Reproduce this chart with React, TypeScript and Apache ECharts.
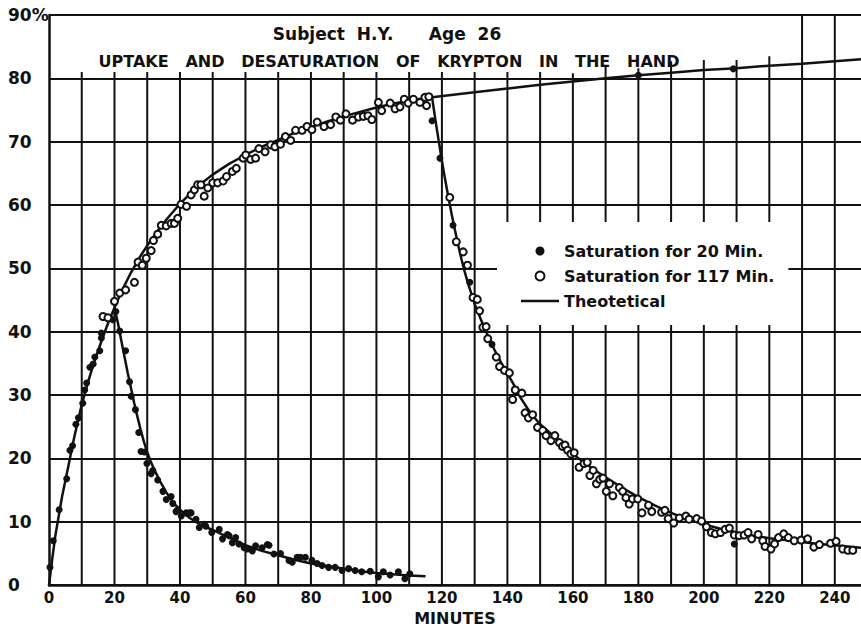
import React, { useEffect, useRef } from "react";
import * as echarts from "echarts";

// ---------- data ----------
const titleLine1 = "Subject\u00A0\u00A0H.Y.\u00A0\u00A0\u00A0\u00A0\u00A0\u00A0Age\u00A0\u00A026";
const titleLine2 =
  "UPTAKE\u00A0\u00A0\u00A0AND\u00A0\u00A0\u00A0DESATURATION\u00A0\u00A0\u00A0OF\u00A0\u00A0\u00A0KRYPTON\u00A0\u00A0\u00A0IN\u00A0\u00A0\u00A0THE\u00A0\u00A0\u00A0HAND";
const xAxisName = "MINUTES";
const legendNames = ["Saturation for 20 Min.", "Saturation for 117 Min.", "Theotetical"];

// vertical grid lines (minutes) and how high each one is drawn (%)
const gridX = [10, 20, 30, 40, 50, 60, 70, 80, 90, 100, 110, 120, 130, 140, 150, 160, 170, 180, 190, 200, 210, 220, 230, 240];
const gridTop = [81, 81, 81, 81, 81, 81, 81, 81, 81, 81, 81, 81, 81, 81, 81, 80.8, 81.9, 81.6, 82.7, 82.9, 82.9, 83.5, 90, 90];

// theoretical curves [minutes, %]
const uptakeCurve = [
  [0, 0], [1, 4.2], [2, 8], [3, 11], [4, 14], [5, 16.5], [6, 19], [7, 21.6], [8, 24], [10, 28.5],
  [12, 32.2], [14, 35.5], [16, 38.5], [18, 41.3], [20, 43.8], [22, 46.2], [25, 49.3], [28, 52],
  [30, 53.6], [33, 55.8], [36, 57.8], [40, 60.2], [45, 62.8], [50, 64.8], [55, 66.5], [60, 67.9],
  [65, 69.2], [70, 70.3], [75, 71.4], [80, 72.3], [85, 73.2], [90, 74], [95, 74.7], [100, 75.4],
  [105, 76], [110, 76.5], [117, 77.0], [130, 77.8], [140, 78.4], [150, 79.0], [160, 79.5],
  [170, 80.0], [180, 80.5], [190, 80.9], [200, 81.3], [210, 81.6], [220, 82.0], [230, 82.3],
  [240, 82.7], [248, 83.0],
];
const desat20Curve = [
  [20, 43.8], [21, 41.5], [22, 38.8], [23, 36.2], [24, 33.6], [25, 31.2], [26, 28.8], [27, 26.6],
  [28, 24.5], [29, 22.6], [30, 21.0], [31, 19.6], [32, 18.4], [34, 16.3], [36, 14.5], [38, 13.0],
  [40, 11.9], [43, 10.6], [46, 9.6], [50, 8.7], [55, 7.5], [60, 6.3], [65, 5.4], [70, 4.7],
  [75, 4.0], [80, 3.4], [85, 3.0], [90, 2.6], [95, 2.2], [100, 1.9], [105, 1.7], [110, 1.5], [115, 1.4],
];
const desat117Curve = [
  [117, 77.0], [118, 73.5], [119, 70.2], [120, 67.0], [121, 64.0], [122, 61.2], [123, 58.5],
  [124, 56.0], [125, 53.6], [126, 51.4], [127, 49.4], [128, 47.6], [130, 44.4], [132, 41.8],
  [134, 39.4], [136, 37.2], [138, 35.2], [140, 33.4], [142, 31.6], [144, 29.6], [147, 27.2],
  [150, 25.4], [154, 23.6], [158, 21.4], [162, 19.9], [166, 18.4], [170, 17.0], [175, 15.4],
  [180, 13.9], [185, 12.6], [190, 11.4], [195, 10.4], [200, 9.6], [205, 8.9], [210, 8.3],
  [215, 7.8], [220, 7.4], [225, 7.1], [230, 6.8], [235, 6.5], [240, 6.3], [248, 5.9],
];

// measured points, 20-minute saturation (filled dots)
const sat20Points = [
  [0.3, 2.8], [1.3, 7.0], [3.1, 11.9], [5.4, 16.8], [6.4, 21.3], [7.2, 22.0], [8.2, 25.4], [9.0, 26.4],
  [10.3, 28.7], [10.9, 30.8], [11.5, 31.9], [12.5, 34.4], [13.5, 34.9], [14.0, 36.0], [15.5, 37.0],
  [16.0, 39.0], [16.0, 39.8], [17.0, 42.4], [18.5, 42.2], [19.5, 41.9], [20.4, 43.2],
  [21.6, 40.1], [23.4, 37.0], [24.6, 32.1], [25.1, 29.8], [26.4, 27.7], [27.4, 24.1], [28.1, 21.1],
  [29.2, 21.0], [29.9, 19.2], [31.2, 17.6], [31.7, 18.1], [33.2, 16.6], [34.8, 14.8], [35.8, 13.5],
  [37.3, 14.0], [37.8, 12.9], [38.8, 11.6], [39.3, 11.9], [40.4, 10.9], [41.9, 11.4], [42.9, 11.4],
  [43.4, 11.4], [44.9, 10.4], [45.9, 9.1], [47.4, 9.6], [47.9, 9.3], [49.7, 8.3], [52.0, 8.8],
  [53.0, 7.3], [54.5, 8.0], [55.0, 7.8], [56.0, 6.7], [57.0, 7.5], [58.0, 6.5], [59.6, 5.9],
  [60.6, 5.7], [62.1, 5.4], [63.1, 6.2], [65.1, 5.9], [66.7, 6.4], [67.2, 6.3], [68.7, 4.9],
  [70.7, 5.0], [73.3, 3.9], [74.3, 3.6], [75.8, 4.4], [76.8, 4.4], [78.3, 4.4], [80.3, 3.9],
  [81.9, 3.4], [83.4, 3.1], [85.4, 2.8], [87.4, 2.8], [89.5, 2.3], [91.5, 2.6], [93.5, 2.3],
  [95.5, 2.1], [98.1, 2.2], [100.6, 1.3], [102.1, 2.1], [104.2, 1.6], [106.7, 2.1], [108.7, 1.0],
  [110.2, 1.8],
  [117.0, 73.3], [119.4, 67.4], [123.4, 56.8], [128.5, 47.8], [135.3, 38.0],
  [180.0, 80.5], [209.0, 81.5], [209.3, 6.5],
];

// measured points, 117-minute saturation (open circles)
const sat117Points = [
  [16.5, 42.4], [18.0, 42.2], [20.0, 44.8], [21.6, 46.1], [23.4, 46.6], [26.1, 47.8], [27.2, 51.0],
  [28.5, 50.5], [29.7, 51.6], [31.2, 52.8], [31.9, 54.4], [33.2, 55.4], [34.3, 56.8], [35.8, 56.7],
  [37.3, 57.1], [38.3, 57.1], [39.3, 57.9], [40.3, 60.1], [42.0, 59.8], [43.4, 61.6], [44.4, 62.4],
  [45.4, 63.2], [46.4, 63.2], [47.4, 61.4], [48.5, 62.7], [50.0, 63.5], [51.5, 63.5], [53.2, 63.8],
  [54.2, 64.5], [56.0, 65.3], [57.2, 65.8], [59.3, 67.4], [60.1, 67.9], [61.6, 67.2], [63.1, 67.4],
  [64.1, 68.9], [66.0, 68.4], [67.7, 69.5], [69.0, 69.2], [70.7, 69.6], [72.2, 70.8], [73.8, 70.2],
  [75.3, 71.8], [77.3, 71.8], [78.8, 72.4], [80.3, 71.9], [81.9, 73.1], [84.0, 72.4], [86.0, 72.7],
  [87.6, 73.9], [89.0, 73.4], [90.7, 74.4], [92.7, 73.4], [94.5, 73.9], [96.0, 74.0], [97.4, 74.1],
  [98.6, 73.5], [100.6, 76.2], [101.6, 74.9], [104.2, 76.1], [105.7, 75.2], [107.2, 75.5],
  [108.5, 76.7], [109.7, 76.1], [111.3, 76.7], [113.3, 76.2], [114.8, 77.0], [116.0, 77.1], [115.3, 75.7],
  [122.4, 61.2], [124.4, 54.2], [126.5, 52.6], [127.8, 50.5], [129.5, 45.4], [130.8, 45.1],
  [131.5, 43.3], [132.5, 40.7], [133.5, 40.8], [134.0, 38.9], [136.6, 36.0], [137.6, 34.5],
  [139.1, 33.9], [140.6, 33.5], [141.6, 29.3], [142.4, 30.8], [144.4, 30.3], [145.4, 27.2],
  [146.4, 26.4], [147.7, 26.9], [149.2, 24.9], [150.8, 24.4], [151.8, 23.6], [153.3, 22.8],
  [154.5, 23.6], [155.9, 22.5], [156.8, 21.9], [157.6, 22.1], [158.4, 21.3], [159.4, 20.7],
  [160.4, 20.9], [161.9, 18.6], [163.4, 19.2], [164.4, 19.4], [165.2, 17.3], [166.2, 18.1],
  [167.2, 16.0], [168.2, 16.7], [169.2, 16.9], [170.2, 14.8], [171.2, 16.0], [172.2, 14.1],
  [174.2, 15.4], [175.2, 14.8], [176.2, 13.8], [177.2, 12.8], [178.2, 13.6], [179.8, 13.6],
  [181.1, 11.4], [183.1, 12.6], [184.1, 11.6], [187.1, 11.5], [188.1, 11.8], [189.1, 10.5],
  [190.8, 9.8], [192.5, 10.6], [194.5, 10.9], [195.5, 10.4], [197.8, 10.5], [199.3, 10.1],
  [200.8, 9.2], [202.3, 8.3], [203.5, 8.1], [205.1, 8.3], [206.5, 8.8], [207.8, 9.0], [209.3, 7.9],
  [210.8, 7.8], [212.3, 7.9], [213.5, 8.3], [214.6, 7.3], [216.6, 8.0], [218.0, 7.0], [218.7, 6.1],
  [220.5, 5.7], [221.6, 6.5], [222.8, 7.5], [224.4, 8.1], [225.8, 7.5], [227.6, 7.0], [229.7, 7.1],
  [231.7, 7.3], [233.6, 6.0], [235.3, 6.4], [238.7, 6.6], [240.4, 6.9], [242.4, 5.7], [244.0, 5.5],
  [245.5, 5.5],
];

const xMin = 0;
const xMax = 248;
const xInterval = 20;
const yMin = 0;
const yMax = 90;
const yInterval = 10;

const INK = "#111";
const FONT = "DejaVu Sans";
// plain line legend icon (bounds set by the two moveTo's so it is not stretched)
const LINE_ICON = "path://M0,0M38,9M0,3.3H38V5.7H0Z";

export default function App() {
  const ref = useRef<HTMLDivElement>(null);

  useEffect(() => {
    if (!ref.current) return;
    const chart = echarts.init(ref.current, undefined, { renderer: "svg" });
    const gridData = gridX.map((x, i) => [x, gridTop[i]]);

    const option: any = {
      animation: false,
      backgroundColor: "#fff",
      grid: { left: 49, right: 0, top: 15, bottom: 36, containLabel: false },
      graphic: [
        {
          type: "text",
          x: 387,
          y: 34,
          z: 10,
          style: {
            text: titleLine1,
            fill: INK,
            font: `bold 17px '${FONT}'`,
            textAlign: "center",
            textVerticalAlign: "middle",
          },
        },
        {
          type: "text",
          x: 389,
          y: 61,
          z: 10,
          style: {
            text: titleLine2,
            fill: INK,
            font: `bold 16px '${FONT}'`,
            textAlign: "center",
            textVerticalAlign: "middle",
          },
        },
      ],
      legend: {
        data: [
          { name: legendNames[0] },
          { name: legendNames[1] },
          { name: legendNames[2], icon: LINE_ICON, itemStyle: { color: INK } },
        ],
        orient: "vertical",
        left: 497,
        top: 222,
        z: 10,
        backgroundColor: "#fff",
        padding: [21, 14, 16, 24],
        itemWidth: 38,
        itemHeight: 9,
        itemGap: 9,
        selectedMode: false,
        textStyle: { fontFamily: FONT, fontWeight: "bold", fontSize: 16, color: INK },
      },
      xAxis: {
        type: "value",
        min: xMin,
        max: xMax,
        interval: xInterval,
        name: xAxisName,
        nameLocation: "middle",
        nameGap: 17,
        nameTextStyle: { fontFamily: FONT, fontWeight: "bold", fontSize: 16, color: INK, verticalAlign: "top" },
        axisLine: { show: true, lineStyle: { color: INK, width: 2.5 } },
        axisTick: { show: false },
        splitLine: { show: false },
        axisLabel: {
          margin: 5,
          showMaxLabel: false,
          fontFamily: FONT,
          fontWeight: "bold",
          fontSize: 15,
          color: INK,
        },
      },
      yAxis: {
        type: "value",
        min: yMin,
        max: yMax,
        interval: yInterval,
        axisLine: { show: true, lineStyle: { color: INK, width: 2.5 } },
        axisTick: { show: false },
        splitLine: { show: true, lineStyle: { color: INK, width: 2 } },
        axisLabel: {
          align: "left",
          margin: 41,
          fontFamily: FONT,
          fontWeight: "bold",
          fontSize: 17,
          color: INK,
          formatter: (v: number) => (v === yMax ? `${v}%` : `${v}`),
        },
      },
      series: [
        {
          type: "custom",
          name: "grid",
          silent: true,
          z: 1,
          data: gridData,
          renderItem: (_params: any, api: any) => {
            const p0 = api.coord([api.value(0), 0]);
            const p1 = api.coord([api.value(0), api.value(1)]);
            return {
              type: "line",
              shape: { x1: p0[0], y1: p0[1], x2: p1[0], y2: p1[1] },
              style: { stroke: INK, lineWidth: 2 },
            };
          },
        },
        {
          type: "line",
          name: "Theotetical",
          data: uptakeCurve,
          showSymbol: false,
          symbol: "none",
          z: 3,
          lineStyle: { color: INK, width: 2.5 },
          itemStyle: { color: INK },
        },
        {
          type: "line",
          name: "Theotetical",
          data: desat20Curve,
          showSymbol: false,
          symbol: "none",
          z: 3,
          lineStyle: { color: INK, width: 2.5 },
          itemStyle: { color: INK },
        },
        {
          type: "line",
          name: "Theotetical",
          data: desat117Curve,
          showSymbol: false,
          symbol: "none",
          z: 3,
          lineStyle: { color: INK, width: 2.5 },
          itemStyle: { color: INK },
        },
        {
          type: "scatter",
          name: "Saturation for 20 Min.",
          data: sat20Points,
          symbol: "circle",
          symbolSize: 7,
          z: 4,
          itemStyle: { color: INK, opacity: 1 },
        },
        {
          type: "scatter",
          name: "Saturation for 117 Min.",
          data: sat117Points,
          symbol: "emptyCircle",
          symbolSize: 7,
          z: 4,
          itemStyle: { color: INK, borderWidth: 1.6, opacity: 1 },
        },
      ],
    };
    chart.setOption(option);
    return () => chart.dispose();
  }, []);

  return (
    <div
      ref={ref}
      style={{ position: "absolute", left: 0, top: 0, width: 861, height: 631, background: "#fff" }}
    />
  );
}
